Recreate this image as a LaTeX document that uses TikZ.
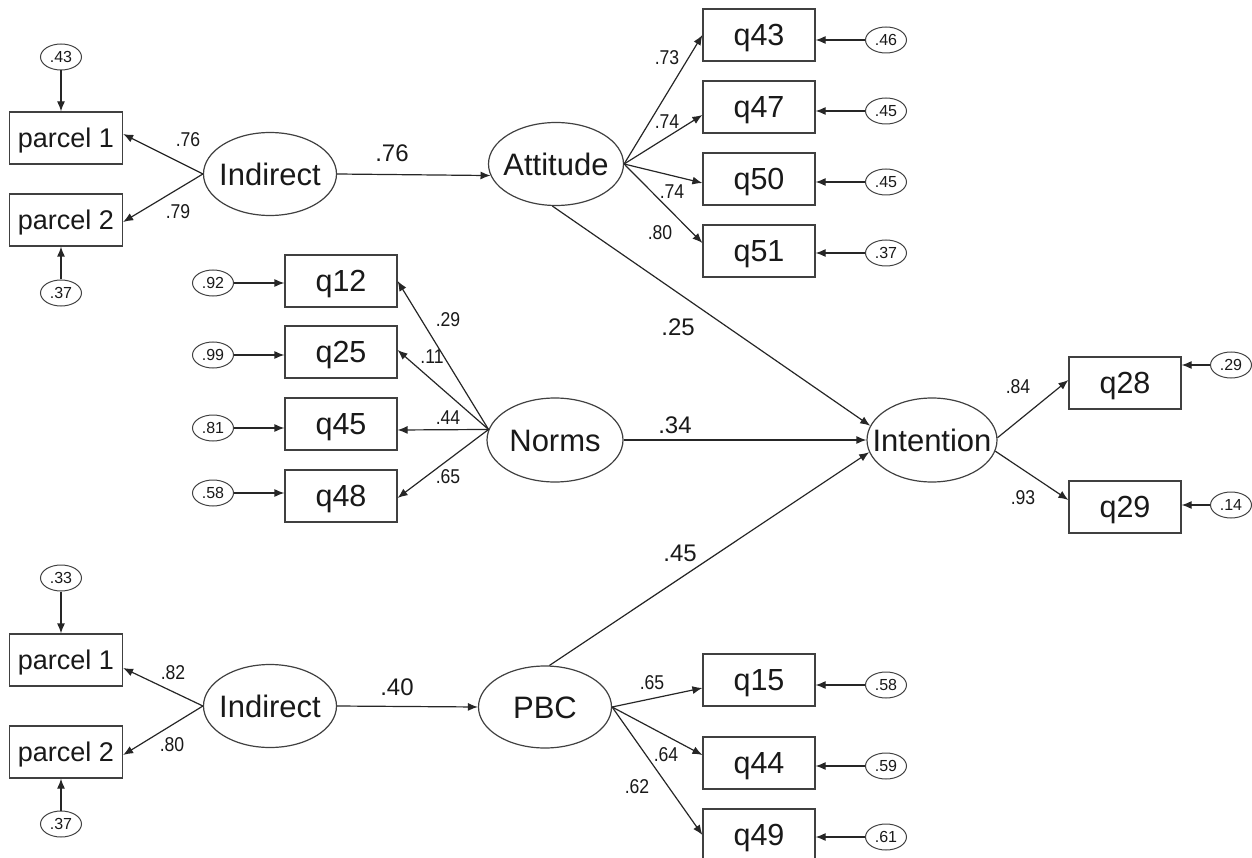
\documentclass[tikz,border=0pt]{standalone}
\usepackage{fontspec}
\setmainfont{Liberation Sans}
\usetikzlibrary{arrows.meta,shapes.geometric,calc}
\newcommand\zw[1]{\makebox[0pt]{#1}}
\newcommand\ld[1]{\scalebox{0.88}[1]{#1}}
\begin{document}
\begin{tikzpicture}[x=1pt,y=-1pt,
  every node/.style={text=black!90},
  latent/.style={ellipse,draw=black!75,line width=1.2pt,inner sep=0pt,minimum width=133pt,minimum height=83pt,font=\fontsize{31}{34}\selectfont,text height=22.2pt,text depth=0pt},
  obs/.style={rectangle,draw=black!75,line width=1.2pt,inner sep=0pt,minimum width=112pt,minimum height=52pt,font=\fontsize{30.5}{34}\selectfont,text height=21.8pt,text depth=0pt},
  parcel/.style={obs,minimum width=113pt,font=\fontsize{27}{30}\selectfont,text height=19.4pt},
  err/.style={ellipse,draw=black!75,line width=1pt,inner sep=0pt,minimum width=41pt,minimum height=26pt,font=\fontsize{16}{17}\selectfont,text height=11.5pt,text depth=0pt},
  arr/.style={draw=black!85,line width=1.2pt,-{Latex[length=10pt,width=8pt]}},
  lab/.style={inner sep=0pt,font=\fontsize{20}{21}\selectfont},
  plab/.style={inner sep=0pt,font=\fontsize{24}{26}\selectfont}
]
\useasboundingbox (0,0) rectangle (1252,858);

% ---------- top Indirect block ----------
\node[err] (e43) at (61,57) {.43};
\node[parcel] (tp1) at (66,138) {parcel 1};
\node[parcel] (tp2) at (66,220) {parcel 2};
\node[err] (te37) at (61,293) {.37};
\node[latent] (ind1) at (270,174) {\zw{Indirect}};
\draw[arr] (e43.south) -- (e43.south |- tp1.north);
\draw[arr] (te37.north) -- (te37.north |- tp2.south);
\draw[arr] (ind1.west) -- ([yshift=4pt]tp1.east);
\draw[arr] (ind1.west) -- ([yshift=-2pt]tp2.east);
\node[lab] (l76a) at (188,140) {\ld{.76}};
\node[lab] (l79) at (178,212) {\ld{.79}};

% ---------- Attitude ----------
\node[latent,minimum width=135pt] (att) at (556,164) {\zw{Attitude}};
\draw[arr] (ind1.east) -- (att.190);
\node[plab] (p76) at (392,153) {.76};
\node[obs] (q43) at (759,35) {q43};
\node[obs] (q47) at (759,107) {q47};
\node[obs] (q50) at (759,179) {q50};
\node[obs] (q51) at (759,251) {q51};
\node[err] (e46) at (886,40) {.46};
\node[err] (e45a) at (886,111) {.45};
\node[err] (e45b) at (886,182) {.45};
\node[err] (e37a) at (886,253) {.37};
\foreach \e/\q in {e46/q43,e45a/q47,e45b/q50,e37a/q51}
  \draw[arr] (\e.west) -- (\e.west -| \q.east);
\draw[arr] (att.east) -- (q43.west);
\draw[arr] (att.east) -- ([yshift=-8pt]q47.west);
\draw[arr] (att.east) -- ([yshift=-4pt]q50.west);
\draw[arr] (att.east) -- ([yshift=8pt]q51.west);
\node[lab] (l73) at (667,58) {\ld{.73}};
\node[lab] (l74a) at (667,122) {\ld{.74}};
\node[lab] (l74b) at (672,192) {\ld{.74}};
\node[lab] (l80a) at (660,233) {\ld{.80}};

% ---------- Norms ----------
\node[latent,minimum width=136pt,minimum height=84pt] (norms) at (555,440) {\zw{Norms}};
\node[obs] (q12) at (341,281) {q12};
\node[obs] (q25) at (341,352) {q25};
\node[obs] (q45) at (341,424) {q45};
\node[obs] (q48) at (341,496) {q48};
\node[err] (e92) at (213,283) {.92};
\node[err] (e99) at (213,355) {.99};
\node[err] (e81) at (213,428) {.81};
\node[err] (e58a) at (213,493) {.58};
\foreach \e/\q in {e92/q12,e99/q25,e81/q45,e58a/q48}
  \draw[arr] (\e.east) -- (\e.east -| \q.west);
\draw[arr] (norms.171) -- (q12.east);
\draw[arr] (norms.171) -- ([yshift=2pt]q25.east);
\draw[arr] (norms.171) -- ([yshift=-6pt]q45.east);
\draw[arr] (norms.171) -- ([yshift=-2pt]q48.east);
\node[lab] (l29) at (448,320) {\ld{.29}};
\node[lab] (l11) at (432,357) {\ld{.11}};
\node[lab] (l44) at (448,418) {\ld{.44}};
\node[lab] (l65a) at (448,477) {\ld{.65}};

% ---------- Intention ----------
\node[latent,minimum width=130pt,minimum height=84pt] (int) at (932,440) {\zw{Intention}};
\node[obs] (q28) at (1125,383) {q28};
\node[obs] (q29) at (1125,507) {q29};
\node[err] (e29) at (1231,365) {.29};
\node[err] (e14) at (1231,505) {.14};
\draw[arr] (e29.west) -- (e29.west -| q28.east);
\draw[arr] (e14.west) -- (e14.west -| q29.east);
\draw[arr] (int.2) -- ([yshift=3pt]q28.west);
\draw[arr] (int.-10) -- ([yshift=7pt]q29.west);
\node[lab] (l84) at (1018,387) {\ld{.84}};
\node[lab] (l93) at (1023,498) {\ld{.93}};

% ---------- bottom Indirect block ----------
\node[err] (e33) at (61,578) {.33};
\node[parcel] (bp1) at (66,660) {parcel 1};
\node[parcel] (bp2) at (66,752) {parcel 2};
\node[err] (be37) at (61,824) {.37};
\node[latent] (ind2) at (270,706) {\zw{Indirect}};
\draw[arr] (e33.south) -- (e33.south |- bp1.north);
\draw[arr] (be37.north) -- (be37.north |- bp2.south);
\draw[arr] (ind2.west) -- ([yshift=-8pt]bp1.east);
\draw[arr] (ind2.west) -- ([yshift=-3pt]bp2.east);
\node[lab] (l82) at (173,673) {\ld{.82}};
\node[lab] (l80b) at (172,745) {\ld{.80}};

% ---------- PBC ----------
\node[latent,minimum height=82pt] (pbc) at (545,707) {\zw{PBC}};
\draw[arr] (ind2.east) -- (pbc.west);
\node[plab] (p40) at (397,687) {.40};
\node[obs] (q15) at (759,680) {q15};
\node[obs] (q44) at (759,763) {q44};
\node[obs] (q49) at (759,835) {q49};
\node[err] (e58b) at (886,685) {.58};
\node[err] (e59) at (886,766) {.59};
\node[err] (e61) at (886,837) {.61};
\foreach \e/\q in {e58b/q15,e59/q44,e61/q49}
  \draw[arr] (\e.west) -- (\e.west -| \q.east);
\draw[arr] (pbc.east) -- ([yshift=-8pt]q15.west);
\draw[arr] (pbc.east) -- ([yshift=8pt]q44.west);
\draw[arr] (pbc.east) -- (q49.west);
\node[lab] (l65b) at (652,683) {\ld{.65}};
\node[lab] (l64) at (666,755) {\ld{.64}};
\node[lab] (l62) at (637,787) {\ld{.62}};

% ---------- structural paths ----------
\draw[arr] (att.-95) -- (int.167);
\draw[arr] (norms.east) -- (int.west);
\draw[arr] (pbc.84) -- (int.191);
\node[plab] (p25) at (678,327) {.25};
\node[plab] (p34) at (675,425) {.34};
\node[plab] (p45) at (680,553) {.45};
\end{tikzpicture}
\end{document}
